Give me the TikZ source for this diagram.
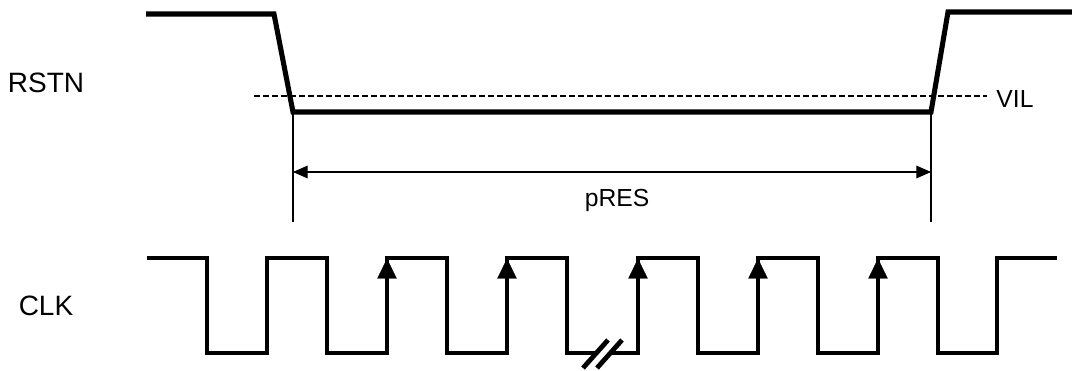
\documentclass[tikz,border=0pt]{standalone}
\usepackage{fontspec}
\setmainfont{Liberation Sans}
\usetikzlibrary{arrows.meta}

\begin{document}
\begin{tikzpicture}[
    x=0.75pt, y=-0.75pt,
    signal/.style={black, line width=3.8pt},
    clock/.style={black, line width=3.6pt},
    thin line/.style={black, line width=0.8pt},
    big label/.style={font=\fontsize{21}{24}\selectfont},
    small label/.style={font=\fontsize{18.5}{22}\selectfont}
    ]
    \useasboundingbox (0,0) rectangle (1072,371);

    % Signal names
    \node[big label] (rstnlabel) at (46,83) {RSTN};
    \node[big label] (clklabel) at (46,306) {CLK};

    % Reset line
    \draw[signal] (146,14) -- (274,14) -- (293,112) -- (931,112) -- (948,12) -- (1072,12);

    % Threshold
    \draw[
        thin line,
        dash pattern=on 4.5pt off 2.25pt
        ]
        (254,96) -- (987,96);
    \node[small label] (vil) at (1015,99) {VIL};

    % Reset pulse width
    \coordinate (presstart) at (293,112);
    \coordinate (presend) at (931,112);
    \coordinate (presstartlow) at (293,222);
    \coordinate (presendlow) at (931,222);
    \draw[thin line] (presstart) -- (presstartlow);
    \draw[thin line] (presend) -- (presendlow);
    \coordinate (arrowleft) at (293,172);
    \coordinate (arrowright) at (931,172);
    \draw[
        thin line,
        {Triangle[length=11pt, width=9.5pt]}-{Triangle[length=11pt, width=9.5pt]}
        ]
        (arrowleft) -- (arrowright);
    \node[small label] (pres) at (617,200) {pRES};

    % Clock
    \draw[clock] (147,258) -| (207,353) -| (267,258) -| (327,353) -| (387,258)
        -| (447,353) -| (507,258) -| (567,353) -- (596,353);
    \draw[clock] (611,353) -| (638,258) -| (698,353) -| (758,258) -| (818,353)
        -| (878,258) -| (938,353) -| (997,258) -- (1057,258);

    % Rising edges
    \foreach \x in {387, 507, 638, 758, 878}
        \draw[black, line width=0.1pt, -{Triangle[length=15pt, width=14.5pt]}] (\x,300) -- (\x,258.5);

    % Break
    \draw[clock] (583,368) -- (608,340);
    \draw[clock] (597,368) -- (622,340);
\end{tikzpicture}
\end{document}
